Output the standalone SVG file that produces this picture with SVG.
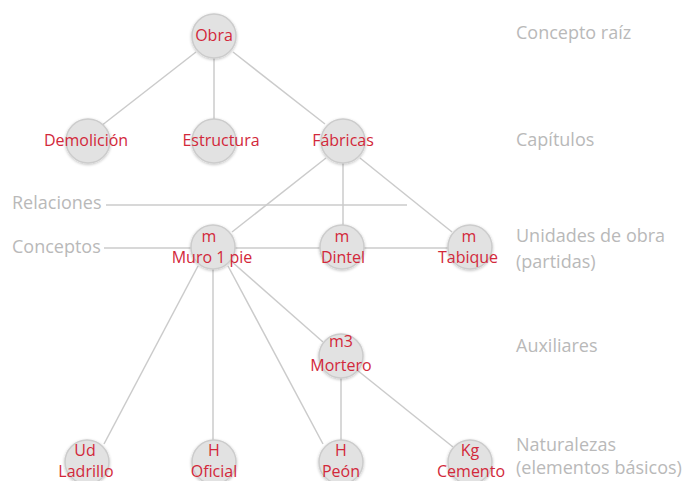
<svg xmlns="http://www.w3.org/2000/svg" width="691" height="481" viewBox="0 0 691 481">
<defs>
<filter id="sh" x="-30%" y="-30%" width="160%" height="160%">
<feGaussianBlur in="SourceAlpha" stdDeviation="1.5"/>
<feOffset dx="0" dy="1" result="b"/>
<feComponentTransfer><feFuncA type="linear" slope="0.25"/></feComponentTransfer>
<feMerge><feMergeNode/><feMergeNode in="SourceGraphic"/></feMerge>
</filter>
</defs>
<style>
.c{fill:#e2e2e2;stroke:#cccccc;stroke-width:1.5;filter:url(#sh)}
.t{fill:#d2283a;font-family:"Open Sans",sans-serif;font-size:16px;text-anchor:middle}
.g{fill:#b9b9b9;font-family:"Open Sans",sans-serif;font-size:18px}
.e{stroke:#cbcbcb;stroke-width:1.5;fill:none}
</style>
<rect width="691" height="481" fill="#ffffff"/>
<g id="connectors">
<line class="e" x1="196" y1="52" x2="101" y2="126"/>
<line class="e" x1="214" y1="57" x2="214" y2="119"/>
<line class="e" x1="233" y1="52" x2="325" y2="124"/>
<line class="e" x1="326" y1="158" x2="232" y2="232"/>
<line class="e" x1="343" y1="163" x2="343" y2="225"/>
<line class="e" x1="360" y1="158" x2="452" y2="232"/>
<line class="e" x1="106" y1="205" x2="407" y2="205"/>
<line class="e" x1="104" y1="248" x2="450" y2="248"/>
<line class="e" x1="198" y1="266" x2="104" y2="444"/>
<line class="e" x1="213" y1="269" x2="213" y2="441"/>
<line class="e" x1="228" y1="266" x2="323" y2="444"/>
<line class="e" x1="231" y1="261" x2="323" y2="342"/>
<line class="e" x1="341" y1="378" x2="341" y2="441"/>
<line class="e" x1="357" y1="370" x2="453" y2="447"/>
</g>
<g id="obra"><circle class="c" cx="214" cy="36" r="22"/><text class="t" x="214" y="41">Obra</text></g>
<g id="demolicion"><circle class="c" cx="88" cy="141" r="22"/><text class="t" x="86" y="146">Demolición</text></g>
<g id="estructura"><circle class="c" cx="214" cy="141" r="22"/><text class="t" x="221" y="146">Estructura</text></g>
<g id="fabricas"><circle class="c" cx="343" cy="141" r="22"/><text class="t" x="343" y="146">Fábricas</text></g>
<g id="muro"><circle class="c" cx="213" cy="247" r="22"/><text class="t" x="209" y="242">m</text><text class="t" x="212" y="263">Muro 1 pie</text></g>
<g id="dintel"><circle class="c" cx="342" cy="247" r="22"/><text class="t" x="342" y="242">m</text><text class="t" x="343" y="263">Dintel</text></g>
<g id="tabique"><circle class="c" cx="470" cy="247" r="22"/><text class="t" x="469" y="242">m</text><text class="t" x="468" y="263">Tabique</text></g>
<g id="mortero"><circle class="c" cx="341" cy="356" r="22"/><text class="t" x="341" y="347">m3</text><text class="t" x="341" y="371">Mortero</text></g>
<g id="ladrillo"><circle class="c" cx="87" cy="462" r="22"/><text class="t" x="85" y="456">Ud</text><text class="t" x="86" y="477">Ladrillo</text></g>
<g id="oficial"><circle class="c" cx="214" cy="462" r="22"/><text class="t" x="214" y="456">H</text><text class="t" x="214" y="477">Oficial</text></g>
<g id="peon"><circle class="c" cx="341" cy="462" r="22"/><text class="t" x="341" y="456">H</text><text class="t" x="341" y="477">Peón</text></g>
<g id="cemento"><circle class="c" cx="470" cy="462" r="22"/><text class="t" x="470" y="456">Kg</text><text class="t" x="471" y="477">Cemento</text></g>
<g id="labels">
<text class="g" x="12" y="209">Relaciones</text>
<text class="g" x="12" y="253">Conceptos</text>
<text class="g" x="516" y="39">Concepto raíz</text>
<text class="g" x="516" y="146">Capítulos</text>
<text class="g" x="516" y="242">Unidades de obra</text>
<text class="g" x="516" y="268">(partidas)</text>
<text class="g" x="516" y="352">Auxiliares</text>
<text class="g" x="516" y="451">Naturalezas</text>
<text class="g" x="516" y="474">(elementos básicos)</text>
</g>
</svg>
